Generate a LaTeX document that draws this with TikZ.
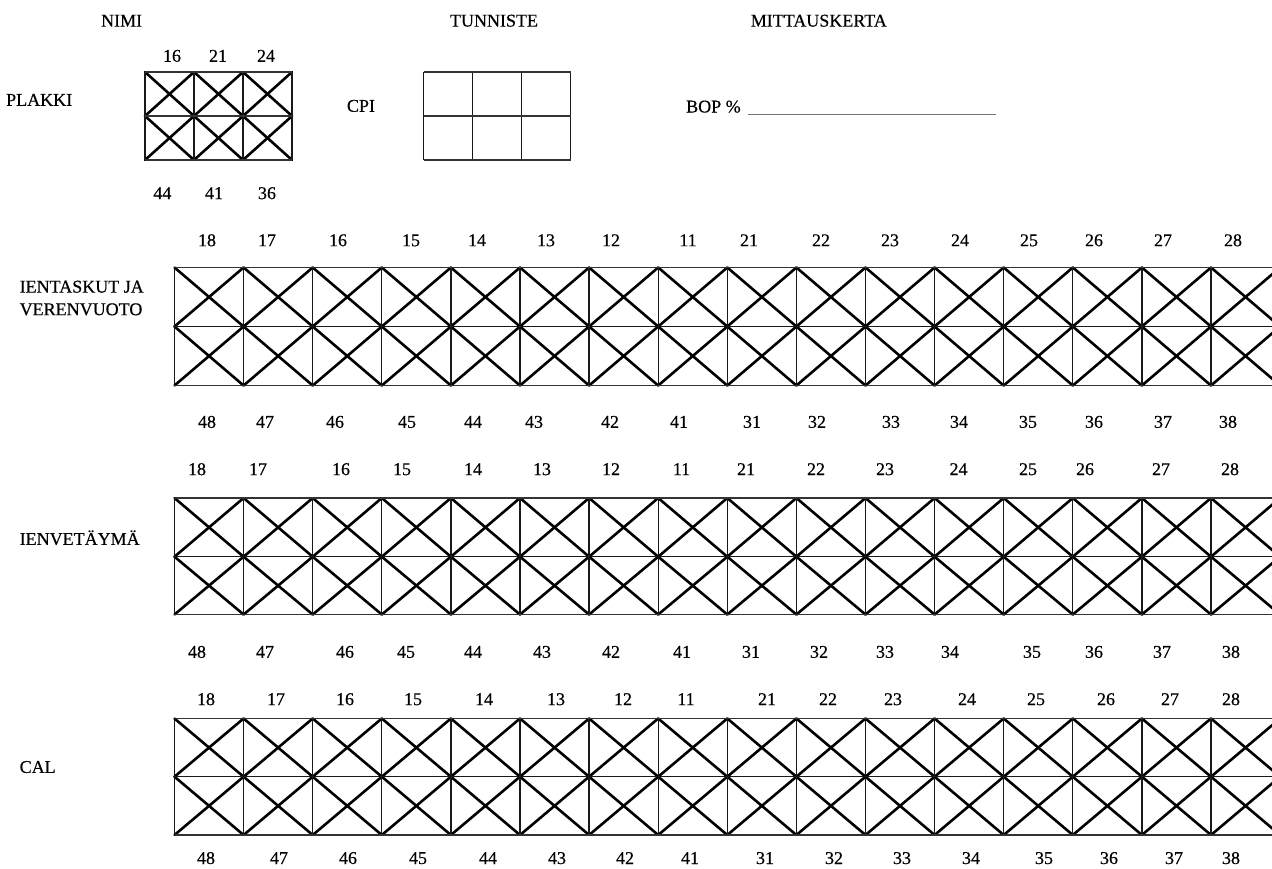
\documentclass[tikz,border=0pt]{standalone}
\usepackage{fontspec}
\setmainfont{Liberation Serif}[FakeBold=0.4]
\begin{document}
\begin{tikzpicture}[x=1pt,y=-1pt,
  lbl/.style={inner sep=0pt, font=\fontsize{18}{21}\selectfont, anchor=base},
  lblw/.style={lbl, anchor=base west},
  hline/.style={line width=1.5pt, black!80},
  vline/.style={line width=1.3pt, black!90},
  diag/.style={line width=2.6pt, black, line cap=round, line join=round},
  uline/.style={line width=1.2pt, black!55},
  ]
\useasboundingbox (0,0) rectangle (1272,868);
\clip (0,0) rectangle (1272,868);
\fill[white] (0,0) rectangle (1272,868);

% header
\node[lbl] (nimi) at (121.6,26.6) {NIMI};
\node[lbl] (tunniste) at (494,26.6) {TUNNISTE};
\node[lbl] (mitt) at (818.8,26.6) {MITTAUSKERTA};
\node[lblw] (plakki) at (6,105.8) {PLAKKI};
\node[lbl] (cpi) at (361,111.8) {CPI};
\node[lblw] (bop) at (686,112.5) {BOP \%};
\coordinate (bopa) at (748,114.5);
\coordinate (bopb) at (996,114.5);
\draw[uline] (bopa) -- (bopb);

% plakki grid
\foreach \xa/\xb in {145/194, 194/243, 243/292}{
  \draw[diag] (\xa,72) -- (\xb,116) -- (\xa,160);
  \draw[diag] (\xb,72) -- (\xa,116) -- (\xb,160);
}
\foreach \x in {145,194,243,292}{\draw[vline] (\x,72) -- (\x,160);}
\foreach \y in {72,116,160}{\draw[hline] (145,\y) -- (292,\y);}
\foreach \t/\x in {16/172, 21/218, 24/266}{\node[lbl] (pt\t) at (\x,61.8) {\t};}
\foreach \t/\x in {44/162.4, 41/214, 36/267}{\node[lbl] (pb\t) at (\x,199.1) {\t};}

% CPI grid
\foreach \x in {423.7,472.7,521.6,570.6}{\draw[vline] (\x,72) -- (\x,160);}
\foreach \y in {72,116,160}{\draw[hline] (423.7,\y) -- (570.6,\y);}

% row labels
\node[lblw] (ient1) at (19.5,292.6) {IENTASKUT JA};
\node[lblw] (ient2) at (19.5,315.2) {VERENVUOTO};
\node[lblw] (ienv) at (19.5,544.9) {IENVETÄYMÄ};
\node[lblw] (cal) at (19.5,772.9) {CAL};

% big grids
\foreach \T/\M/\B in {267.5/326.5/385.5, 498/556.7/614.5, 718.5/776.7/835}{
  \foreach \k in {0,...,15}{
    \pgfmathsetmacro\xa{174.5+69.1*\k}
    \pgfmathsetmacro\xb{\xa+69.1}
    \draw[diag] (\xa,\T) -- (\xb,\M) -- (\xa,\B);
    \draw[diag] (\xb,\T) -- (\xa,\M) -- (\xb,\B);
  }
  \foreach \k in {0,...,16}{
    \pgfmathsetmacro\xa{174.5+69.1*\k}
    \draw[vline] (\xa,\T) -- (\xa,\B);
  }
  \draw[hline] (174.5,\T) -- (1290,\T);
  \draw[vline] (174.5,\M) -- (1290,\M);
  \draw[hline] (174.5,\B) -- (1290,\B);
}

% numbers row 1
\foreach \t/\x in {18/207, 17/267, 16/338, 15/411, 14/477, 13/546, 12/611, 11/688, 21/749, 22/821, 23/890, 24/960, 25/1029, 26/1094, 27/1163, 28/1233}{
  \node[lbl] (a\t) at (\x,246.2) {\t};}
\foreach \t/\x in {48/207, 47/265, 46/335, 45/407, 44/473, 43/534, 42/610, 41/679, 31/752, 32/817, 33/891, 34/959, 35/1028, 36/1094, 37/1163, 38/1228}{
  \node[lbl] (b\t) at (\x,427.8) {\t};}
% numbers row 2
\foreach \t/\x in {18/197, 17/258, 16/341, 15/402, 14/473, 13/542, 12/611, 11/681.5, 21/746, 22/816, 23/885, 24/958.5, 25/1028, 26/1085, 27/1161, 28/1230}{
  \node[lbl] (c\t) at (\x,475.1) {\t};}
\foreach \t/\x in {48/197, 47/265, 46/345, 45/406, 44/473, 43/542, 42/611, 41/682, 31/751, 32/819, 33/885, 34/950, 35/1032, 36/1094, 37/1162, 38/1231}{
  \node[lbl] (d\t) at (\x,657.8) {\t};}
% numbers row 3
\foreach \t/\x in {18/206, 17/276, 16/345, 15/413, 14/484, 13/556, 12/623, 11/686, 21/767, 22/828, 23/893, 24/967, 25/1036, 26/1106, 27/1170, 28/1231}{
  \node[lbl] (e\t) at (\x,705.1) {\t};}
\foreach \t/\x in {48/206, 47/279, 46/348, 45/418, 44/488, 43/557, 42/625, 41/690, 31/765, 32/834, 33/902, 34/971, 35/1044, 36/1109, 37/1174, 38/1231}{
  \node[lbl] (f\t) at (\x,864) {\t};}
\end{tikzpicture}
\end{document}
